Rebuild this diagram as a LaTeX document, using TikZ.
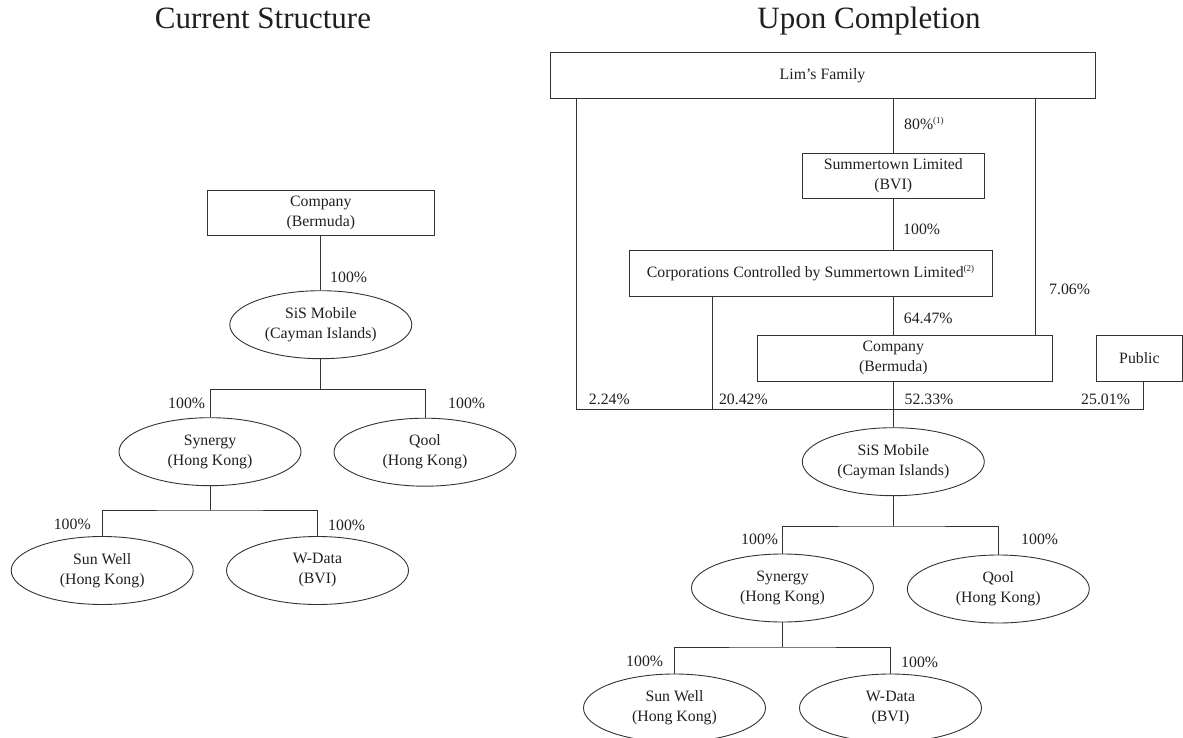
\documentclass[tikz,border=0pt]{standalone}
\usepackage{fontspec}
\setmainfont{Liberation Serif}
\usetikzlibrary{shapes.geometric}
\newcommand{\bodyfnt}{\fontsize{15.8}{20}\selectfont}
\newcommand{\ttlfnt}{\fontsize{31}{36}\selectfont}
\newcommand{\sups}[1]{\raisebox{5.5pt}{\fontsize{9}{9}\selectfont(#1)}}
\definecolor{ink}{gray}{0.12}
\definecolor{rule}{gray}{0.2}
\begin{document}
\begin{tikzpicture}[x=1pt,y=-1pt,
  every node/.style={text=ink},
  ln/.style={draw=rule, line width=0.9pt},
  box/.style={draw=rule, line width=0.9pt, rectangle, inner sep=0pt, align=center, font=\bodyfnt},
  txt/.style={inner sep=0pt, align=center, font=\bodyfnt},
  ell/.style={draw=rule, line width=0.9pt, ellipse, inner sep=0pt, minimum width=182pt, minimum height=68pt, align=center, font=\bodyfnt},
  lbl/.style={inner sep=0pt, anchor=base west, font=\bodyfnt},
  ttl/.style={inner sep=0pt, anchor=base, font=\ttlfnt}]
\useasboundingbox (0,0) rectangle (1183,738);

% titles
\node[ttl] (t1) at (263,28.3) {Current Structure};
\node[ttl] (t2) at (869,28.3) {Upon Completion};

% ---------- left tree ----------
\node[box, minimum width=227pt, minimum height=45pt] (co1) at (320.8,212.5) {Company\\(Bermuda)};
\node[ell] (sis1) at (320.8,324.7) {SiS Mobile\\(Cayman Islands)};
\node[ell] (syn1) at (210,451.7) {Synergy\\(Hong Kong)};
\node[ell] (qool1) at (425,452.2) {Qool\\(Hong Kong)};
\node[ell] (sun1) at (102.2,570.5) {Sun Well\\(Hong Kong)};
\node[ell] (wd1) at (317.5,570.5) {W-Data\\(BVI)};
\coordinate (j1) at (320.8,389.3);
\coordinate (j2) at (210,510);

\draw[ln] (co1.south) -- (sis1.north);
\draw[ln] (sis1.south) -- (j1);
\draw[ln] (syn1.north) |- (j1) -| (qool1.north);
\draw[ln] (syn1.south) -- (j2);
\draw[ln] (sun1.north) |- (j2) -| (wd1.north);

\node[lbl] (l1) at (330,282.8) {100\%};
\node[lbl] (l2) at (168,408.8) {100\%};
\node[lbl] (l3) at (448,408.8) {100\%};
\node[lbl] (l4) at (53.6,529.8) {100\%};
\node[lbl] (l5) at (328,530.8) {100\%};

% ---------- right tree ----------
\node[box, minimum width=545pt, minimum height=46pt] (lim) at (822.5,75.3) {Lim's Family};
\node[box, minimum width=181.7pt, minimum height=45pt] (sum) at (893.3,175.8) {Summertown Limited\\(BVI)};
\node[box, minimum width=363pt, minimum height=45.5pt] (corp) at (810.5,273.2) {Corporations Controlled by Summertown Limited\sups{2}};
\node[box, minimum width=295pt, minimum height=45.3pt] (co2) at (904.5,358.3) {};
\node[txt] (co2t) at (893.3,358.3) {Company\\(Bermuda)};
\node[box, minimum width=85.3pt, minimum height=45.3pt] (pub) at (1139.4,358.3) {Public};
\node[ell] (sis2) at (893.3,461.7) {SiS Mobile\\(Cayman Islands)};
\node[ell] (syn2) at (782.5,588) {Synergy\\(Hong Kong)};
\node[ell] (qool2) at (998.3,589) {Qool\\(Hong Kong)};
\node[ell] (sun2) at (674.5,708) {Sun Well\\(Hong Kong)};
\node[ell] (wd2) at (890.5,708) {W-Data\\(BVI)};

\coordinate (bL) at (576,409.3);
\coordinate (bR) at (1143,409.3);
\coordinate (b20) at (712.3,409.3);
\coordinate (r7) at (1035.5,200);
\coordinate (j3) at (893.3,526);
\coordinate (j4) at (782.5,647);

\draw[ln] (lim.south -| bL) -- (bL) -- (bR) -- (pub.south -| bR);
\draw[ln] (lim.south -| sum.north) -- (sum.north);
\draw[ln] (sum.south) -- (corp.north -| sum.south);
\draw[ln] (corp.south -| b20) -- (b20);
\draw[ln] (corp.south -| co2t) -- (co2.north -| co2t);
\draw[ln] (lim.south -| r7) -- (co2.north -| r7);
\draw[ln] (co2.south -| co2t) -- (sis2.north);
\draw[ln] (sis2.south) -- (j3);
\draw[ln] (syn2.north) |- (j3) -| (qool2.north);
\draw[ln] (syn2.south) -- (j4);
\draw[ln] (sun2.north) |- (j4) -| (wd2.north);

\node[lbl] (r1) at (904,129.5) {80\%\sups{1}};
\node[lbl] (r2) at (903,234.5) {100\%};
\node[lbl] (r3) at (1049,294.8) {7.06\%};
\node[lbl] (r4) at (903.7,323.2) {64.47\%};
\node[lbl] (r5) at (588.7,404.3) {2.24\%};
\node[lbl] (r6) at (718.8,404.3) {20.42\%};
\node[lbl] (r7l) at (904.4,404.3) {52.33\%};
\node[lbl] (r8) at (1081,404.3) {25.01\%};
\node[lbl] (r9) at (741,544.8) {100\%};
\node[lbl] (r10) at (1021,544.8) {100\%};
\node[lbl] (r11) at (626,666.5) {100\%};
\node[lbl] (r12) at (901,667) {100\%};
\end{tikzpicture}
\end{document}
